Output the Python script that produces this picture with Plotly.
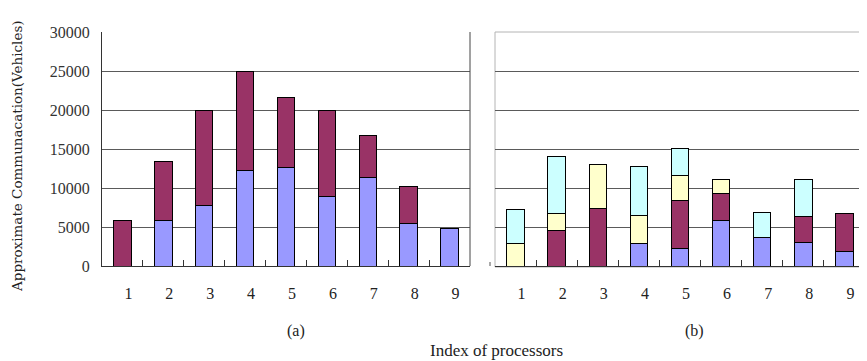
import plotly.graph_objects as go

categories = ["1", "2", "3", "4", "5", "6", "7", "8", "9"]

# Panel (a)
a_blue = [None, 5800, 7700, 12250, 12600, 8950, 11300, 5450, 4800]
a_maroon = [5850, 7650, 12300, 12650, 9000, 11050, 5400, 4750, None]

# Panel (b)
b_blue = [None, None, None, 2850, 2300, 5800, 3650, 3050, 1850]
b_maroon = [None, 4500, 7350, None, 6150, 3500, None, 3300, 4900]
b_yellow = [2850, 2250, 5700, 3650, 3150, 1800, None, None, None]
b_cyan = [4400, 7300, None, 6200, 3450, None, 3200, 4800, None]

y_ticks = [0, 5000, 10000, 15000, 20000, 25000, 30000]

BLUE = "#9999FF"
MAROON = "#993366"
YELLOW = "#FFFFCC"
CYAN = "#CCFFFF"
GRID = "#5a5a5a"
LIGHT = "#b4b4b4"

OFF = 8  # page body margin
W, H = 867 - OFF, 361 - OFF
def px(x):
    return (x - OFF) / W
def py(y):
    return 1 - (y - OFF) / H

fig = go.Figure()

def add_bar(x, y, color, xa, ya):
    fig.add_trace(go.Bar(
        x=x, y=y, marker=dict(color=color, line=dict(color="#000000", width=1)),
        xaxis=xa, yaxis=ya, showlegend=False, hoverinfo="skip"))

add_bar(categories, a_blue, BLUE, "x", "y")
add_bar(categories, a_maroon, MAROON, "x", "y")
add_bar(categories, b_blue, BLUE, "x2", "y2")
add_bar(categories, b_maroon, MAROON, "x2", "y2")
add_bar(categories, b_yellow, YELLOW, "x2", "y2")
add_bar(categories, b_cyan, CYAN, "x2", "y2")

serif = "Liberation Serif"
xcommon = dict(
    type="category", showgrid=False, ticks="inside", tickson="boundaries",
    ticklen=6, tickcolor="#333333", tickwidth=1,
    showline=True, linecolor="#333333", linewidth=1,
    tickfont=dict(family=serif, size=16, color="#222222"),
    ticklabelstandoff=13, ticklabelshift=6, zeroline=False, automargin=False,
)
fig.update_layout(
    template="none",
    width=W, height=H,
    margin=dict(l=0, r=0, t=0, b=0, autoexpand=False),
    paper_bgcolor="white", plot_bgcolor="white",
    barmode="stack", bargap=0.575,
    xaxis=dict(domain=[px(102), px(470)], anchor="y", **xcommon),
    xaxis2=dict(domain=[px(495), px(865)], anchor="y2", **xcommon),
    yaxis=dict(domain=[py(266), py(32)], range=[0, 30000], tickvals=y_ticks,
               ticktext=[str(v) for v in y_ticks],
               showgrid=True, gridcolor=GRID, gridwidth=1,
               showline=True, linecolor="#333333", linewidth=1, mirror=False,
               ticks="", ticklabelstandoff=8, zeroline=False, automargin=False,
               tickfont=dict(family=serif, size=16, color="#333333")),
    yaxis2=dict(domain=[py(266), py(32)], range=[0, 30000],
                tickvals=[5000, 10000, 15000, 20000, 25000],
                showticklabels=False, showgrid=True, gridcolor=GRID, gridwidth=1,
                showline=False, ticks="", zeroline=False, anchor="x2", automargin=False),
)

# right edge of panel (a)
fig.add_shape(type="line", xref="paper", yref="paper",
              x0=px(470), x1=px(470), y0=py(266), y1=py(32),
              line=dict(color="#444444", width=1))
# light border of panel (b)
fig.add_shape(type="rect", xref="paper", yref="paper",
              x0=px(495), x1=px(865), y0=py(267), y1=py(32),
              line=dict(color=LIGHT, width=1), layer="below")
# small y tick mark of panel (b)
fig.add_shape(type="line", xref="paper", yref="paper",
              x0=px(490), x1=px(490), y0=py(266), y1=py(262),
              line=dict(color="#555555", width=1))

def label(text, x, y, size, family=serif, angle=0):
    fig.add_annotation(text=text, xref="paper", yref="paper", x=px(x), y=py(y),
                       xanchor="center", yanchor="middle", textangle=angle,
                       showarrow=False, font=dict(family=family, size=size, color="#222222"))

label("Approximate Communacation(Vehicles)", 17, 156, 13.5, family="DejaVu Serif", angle=-90)
label("(a)", 296, 331, 16)
label("(b)", 694, 331, 16)
label("Index of processors", 496, 350, 17)

fig.write_html("out.html", config={"responsive": False})
